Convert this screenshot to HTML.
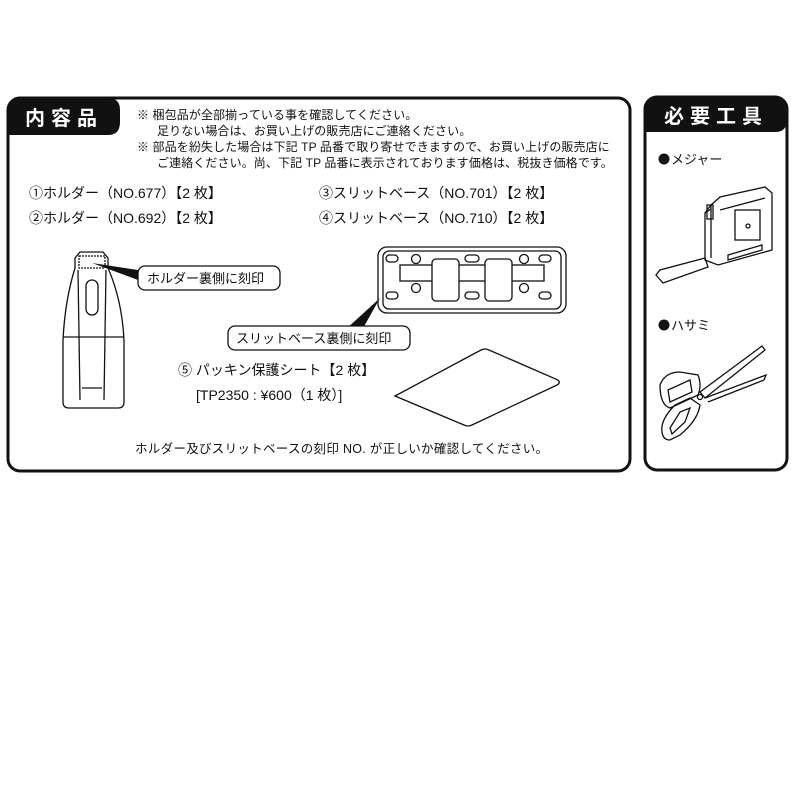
<!DOCTYPE html>
<html><head><meta charset="utf-8"><style>
body{margin:0;background:#fff;}
svg text{font-family:"Liberation Sans","Noto Sans CJK JP",sans-serif;fill:#111;}
</style></head><body>
<svg width="800" height="800" viewBox="0 0 800 800" xmlns="http://www.w3.org/2000/svg">
<rect x="8" y="98" width="622" height="373" rx="12" fill="none" stroke="#111" stroke-width="3"/>
<path d="M8 135 V110 Q8 98 20 98 H108 Q120 98 120 110 V122 Q120 135 108 135 Z" fill="#111"/>
<text x="64" y="125" font-size="20" font-weight="bold" style="fill:#fff" text-anchor="middle" letter-spacing="6">内容品</text>
<g font-size="12" letter-spacing="0.1">
<text x="137" y="119">※ 梱包品が全部揃っている事を確認してください。</text>
<text x="157" y="135">足りない場合は、お買い上げの販売店にご連絡ください。</text>
<text x="137" y="151">※ 部品を紛失した場合は下記 TP 品番で取り寄せできますので、お買い上げの販売店に</text>
<text x="157" y="167">ご連絡ください。尚、下記 TP 品番に表示されております価格は、税抜き価格です。</text>
</g>
<g font-size="14">
<text x="29" y="198">①ホルダー（NO.677）【2 枚】</text>
<text x="29" y="223">②ホルダー（NO.692）【2 枚】</text>
<text x="319" y="198">③スリットベース（NO.701）【2 枚】</text>
<text x="319" y="223">④スリットベース（NO.710）【2 枚】</text>
</g>
<g fill="none" stroke="#111" stroke-width="1.3">
<path d="M75 258 L80 252 H103 L108 258 L108 268 Q122 300 124 340 V402 Q124 408 118 408 H69 Q63 408 63 402 V340 Q65 300 75 268 Z"/>
<rect x="79" y="256" width="26" height="12" stroke-dasharray="2 1"/>
<rect x="86" y="280" width="12" height="35" rx="6"/>
<line x1="63" y1="337" x2="124" y2="337"/>
<path d="M78 270 L80 400 M106 270 L104 400 M82 388 H102"/>
</g>
<polygon points="92,263 138,270 138,280" fill="#111"/>
<rect x="138" y="266" width="142" height="24" rx="7" fill="#fff" stroke="#111" stroke-width="1.3"/>
<text x="147" y="283" font-size="13">ホルダー裏側に刻印</text>
<g fill="none" stroke="#111" stroke-width="1.3">
<rect x="378" y="247" width="188" height="66" rx="9"/>
<rect x="383" y="251" width="178" height="58" rx="6"/>
<rect x="400" y="265" width="144" height="16"/>
<rect x="432" y="259" width="27" height="42" rx="4" fill="#fff"/>
<rect x="485" y="259" width="27" height="42" rx="4" fill="#fff"/>
<rect x="386" y="255" width="12" height="7" rx="3.5"/><rect x="465" y="255" width="14" height="7" rx="3.5"/><rect x="539" y="255" width="12" height="7" rx="3.5"/>
<rect x="386" y="292" width="12" height="7" rx="3.5"/><rect x="465" y="292" width="14" height="7" rx="3.5"/><rect x="539" y="292" width="12" height="7" rx="3.5"/>
<circle cx="416" cy="259" r="4.5"/><circle cx="524" cy="259" r="4.5"/><circle cx="416" cy="288" r="4.5"/><circle cx="524" cy="288" r="4.5"/>
</g>
<polygon points="380,298 345,330 362,330" fill="#111"/>
<rect x="228" y="326" width="182" height="24" rx="7" fill="#fff" stroke="#111" stroke-width="1.3"/>
<text x="236" y="343" font-size="13">スリットベース裏側に刻印</text>
<text x="178" y="375" font-size="14">⑤ パッキン保護シート【2 枚】</text>
<text x="196" y="400" font-size="14">[TP2350 : ¥600（1 枚）]</text>
<path d="M395 396 L481 350 Q485 348 489 350 L558 380 Q561 383 557 385 L472 425 Q468 427 464 425 Z" fill="none" stroke="#111" stroke-width="1.3"/>
<text x="135" y="453" font-size="12.5" letter-spacing="0.3">ホルダー及びスリットベースの刻印 NO. が正しいか確認してください。</text>
<rect x="645" y="97" width="142" height="373" rx="12" fill="none" stroke="#111" stroke-width="3"/>
<path d="M645 132 V109 Q645 97 657 97 H775 Q787 97 787 109 V120 Q787 132 775 132 Z" fill="#111"/>
<text x="716" y="123" font-size="20" font-weight="bold" style="fill:#fff" text-anchor="middle" letter-spacing="6">必要工具</text>
<circle cx="664" cy="159" r="5.5" fill="#111"/>
<text x="671" y="164" font-size="13">メジャー</text>
<circle cx="664" cy="325" r="5.5" fill="#111"/>
<text x="671" y="330" font-size="13">ハサミ</text>
<g fill="none" stroke="#111" stroke-width="1.3">
<path d="M711 205 L720 197 L765 187 L772 193 V250 L718 265 L705 260 V213 Z"/>
<path d="M720 210 L765 198"/><rect x="735" y="210" width="25" height="30"/>
<circle cx="748" cy="226" r="2"/><path d="M728 255 L762 245 V250 L728 260 Z"/>
<path d="M711 205 V258 M705 213 L711 209"/>
<rect x="707" y="205" width="6" height="14"/>
<path d="M705 258 L660 270 L656 275 L663 283 L708 267 Z"/>
</g>
<g fill="none" stroke="#111" stroke-width="1.3">
<path d="M700 392 L762 346 L765 350 L705 398 Z"/>
<path d="M705 398 L766 375 L764 380 L708 402"/>
<path d="M660 385 Q665 372 680 372 L698 375 Q702 385 698 395 L670 408 Q660 405 660 385 Z"/>
<path d="M668 390 L690 380 L692 392 L670 402 Z"/>
<path d="M662 432 Q660 420 675 405 L690 398 L700 405 Q698 420 680 435 L670 440 Q663 440 662 432 Z"/>
<path d="M670 428 L680 412 L690 408 L685 422 L672 434 Z"/>
<circle cx="700" cy="397" r="2.5"/>
</g>
</svg>
</body></html>
